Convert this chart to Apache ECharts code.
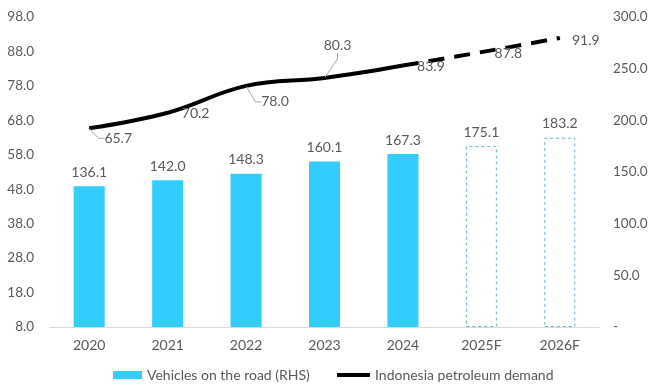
<!DOCTYPE html>
<html><head><meta charset="utf-8">
<script src="https://cdn.jsdelivr.net/npm/echarts@6/dist/echarts.min.js"></script>
<style>html,body{margin:0;padding:0;background:#fff}#c{width:651px;height:387px}</style>
</head><body><div id="c"></div>
<script>
// ---- data ----
const categories = ['2020', '2021', '2022', '2023', '2024', '2025F', '2026F'];
const vehicles = [136.1, 142.0, 148.3, 160.1, 167.3, 175.1, 183.2];
const demandActual = [65.7, 70.2, 78.0, 80.3, 83.9, null, null];
const demandForecast = [null, null, null, null, 83.9, 87.8, 91.9];
const firstForecastIndex = 5;
const leftAxisRange = [8, 98, 10];
const rightAxisRange = [0, 300, 50];
const barName = 'Vehicles on the road (RHS)';
const lineName = 'Indonesia petroleum demand';

// ---- presentation ----
const FONT = 'Lato';
const TXT = '#595959';
const BAR = '#33CCFF';
const BAR_DASH = '#5BB8DA';
const FS = 14;
const AXFS = 13.5;
// label offsets (dx, dy) from point centre, and whether a leader line is drawn
const lineLabelPos = [[29, 10, true], [28, 1, false], [29, 16, true], [13, -32, true], [28, 1, false], [27, 1, false], [26, 2, false]];

const barData = vehicles.map((v, i) => i >= firstForecastIndex ? {
  value: v,
  itemStyle: { color: '#fff', borderColor: BAR_DASH, borderWidth: 1, borderType: [3, 3] }
} : { value: v });

function lineItems(arr, skip) {
  return arr.map((v, i) => {
    if (v === null) return null;
    const show = !(skip && i === skip);
    return {
      value: v,
      label: { show: show },
      labelLine: { show: show && lineLabelPos[i][2] }
    };
  });
}

const labelLayout = function (p) {
  const o = lineLabelPos[p.dataIndex];
  return { dx: o[0], dy: o[1] };
};

const lineLabel = {
  show: true, position: 'inside', color: TXT, fontFamily: FONT, fontSize: FS,
  formatter: p => p.value.toFixed(1)
};
const labelLineStyle = { show: true, length2: 6, lineStyle: { color: '#a6a6a6', width: 1 } };

const chart = echarts.init(document.getElementById('c'), null, { renderer: 'canvas' });
chart.setOption({
  animation: false,
  backgroundColor: '#fff',
  textStyle: { fontFamily: FONT },
  grid: { left: 50, right: 52, top: 17, bottom: 60, containLabel: false },
  legend: [
    { data: [{ name: barName, icon: 'rect' }], left: 108, top: 363, itemWidth: 29, itemHeight: 8, itemGap: 0,
      textStyle: { color: TXT, fontFamily: FONT, fontSize: FS } },
    { data: [{ name: lineName, icon: 'rect', itemStyle: { color: '#000' } }], left: 332, top: 363, itemWidth: 33, itemHeight: 4,
      textStyle: { color: TXT, fontFamily: FONT, fontSize: FS } }
  ],
  xAxis: {
    type: 'category', data: categories,
    axisLine: { lineStyle: { color: '#d9d9d9', width: 1 } },
    axisTick: { show: false },
    axisLabel: { color: TXT, fontFamily: FONT, fontSize: FS, margin: 11 }
  },
  yAxis: [
    { type: 'value', min: leftAxisRange[0], max: leftAxisRange[1], interval: leftAxisRange[2],
      splitLine: { show: false }, axisLine: { show: false }, axisTick: { show: false },
      axisLabel: { color: TXT, fontFamily: FONT, fontSize: AXFS, margin: 16, formatter: v => v.toFixed(1) } },
    { type: 'value', min: rightAxisRange[0], max: rightAxisRange[1], interval: rightAxisRange[2], position: 'right',
      splitLine: { show: false }, axisLine: { show: false }, axisTick: { show: false },
      axisLabel: { color: TXT, fontFamily: FONT, fontSize: AXFS, margin: 14, formatter: v => v === 0 ? '-' : v.toFixed(1) } }
  ],
  series: [
    { name: barName, type: 'bar', yAxisIndex: 1, data: barData, barWidth: 31,
      itemStyle: { color: BAR },
      label: { show: true, position: 'top', distance: 7, color: TXT, fontFamily: FONT, fontSize: FS,
        formatter: p => p.value.toFixed(1) } },
    { name: lineName, type: 'line', yAxisIndex: 0, data: lineItems(demandActual, null), smooth: 0.4,
      symbol: 'circle', symbolSize: 1, itemStyle: { color: '#000' },
      lineStyle: { color: '#000', width: 4 }, label: lineLabel, labelLine: labelLineStyle, labelLayout: labelLayout, z: 5 },
    { name: lineName, type: 'line', yAxisIndex: 0, data: lineItems(demandForecast, 4), smooth: 0.4,
      symbol: 'circle', symbolSize: 1, itemStyle: { color: '#000' },
      lineStyle: { color: '#000', width: 4, type: [16, 10], cap: 'butt' }, label: lineLabel, labelLine: labelLineStyle, labelLayout: labelLayout, z: 5 }
  ]
});
</script></body></html>
